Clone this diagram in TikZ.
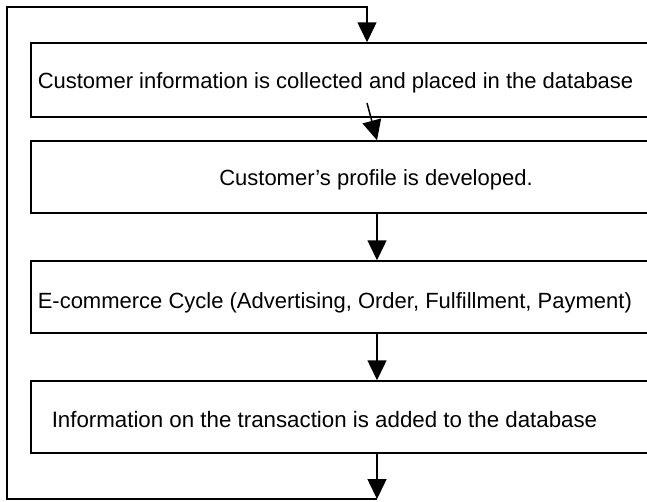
\documentclass[tikz,border=0pt]{standalone}
\usepackage{fontspec}
\setmainfont{Liberation Sans}
\usetikzlibrary{arrows.meta}
\begin{document}
\begin{tikzpicture}[x=1pt,y=-1pt,
  line width=1.5pt,
  box/.style={draw,rectangle,minimum width=620pt,inner sep=0pt},
  lbl/.style={inner sep=0pt,anchor=west,font=\fontsize{22}{26}\selectfont},
  arr/.style={-{Triangle[length=20pt,width=19pt]}}]
\clip (0,0) rectangle (647,501);
\useasboundingbox (0,0) rectangle (647,501);
\node[box,minimum height=74pt] (b1) at (341,80) {};
\node[box,minimum height=72pt] (b2) at (341,177) {};
\node[box,minimum height=72pt] (b3) at (341,297) {};
\node[box,minimum height=72pt] (b4) at (341,417) {};
\node[lbl] (t1) at (37,83) {Customer information is collected and placed in the database};
\node[lbl,anchor=center] (t2) at (376,180) {Customer’s profile is developed.};
\node[lbl] (t3) at (37,303) {E-commerce Cycle (Advertising, Order, Fulfillment, Payment)};
\node[lbl,font=\fontsize{22.3}{26}\selectfont] (t4) at (51,420) {Information on the transaction is added to the database};
\coordinate (s1) at (367,103);
\coordinate (c1) at (377,499);
\coordinate (c2) at (7,499);
\coordinate (c3) at (7,7);
\coordinate (c4) at (367,7);
\draw[arr] (s1) -- (b2.north -| 377,0);
\draw[arr] (b2.south -| 377,0) -- (b3.north -| 377,0);
\draw[arr] (b3.south -| 377,0) -- (b4.north -| 377,0);
\draw[arr] (b4.south -| 377,0) -- (c1);
\draw[arr] (c1) -- (c2) -- (c3) -- (c4) -- (b1.north -| c4);
\end{tikzpicture}
\end{document}
